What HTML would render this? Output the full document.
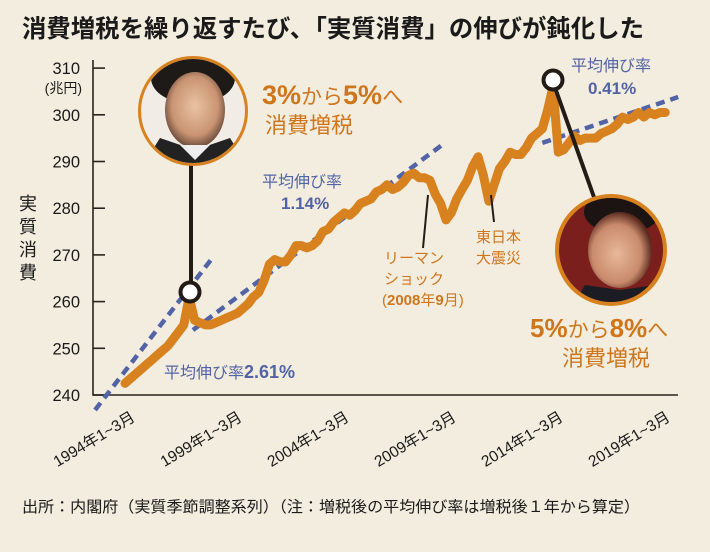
<!DOCTYPE html>
<html lang="ja">
<head>
<meta charset="utf-8">
<style>
  html,body{margin:0;padding:0;background:#f3eddf;}
  body{width:710px;height:552px;overflow:hidden;}
  svg{display:block;}
  text{font-family:"Liberation Sans","Noto Sans CJK JP",sans-serif;}
</style>
</head>
<body>
<svg id="chart" width="710" height="552" viewBox="0 0 710 552">
  <defs>
    <radialGradient id="face1" cx="50%" cy="45%" r="55%">
      <stop offset="0%" stop-color="#e9c3a3"/><stop offset="70%" stop-color="#c99473"/><stop offset="100%" stop-color="#6b4a3a"/>
    </radialGradient>
    <radialGradient id="face2" cx="45%" cy="55%" r="55%">
      <stop offset="0%" stop-color="#e8b89a"/><stop offset="70%" stop-color="#c98a6c"/><stop offset="100%" stop-color="#5a2a1e"/>
    </radialGradient>
    <clipPath id="c1"><circle cx="193" cy="111" r="52"/></clipPath>
    <clipPath id="c2"><circle cx="611" cy="250" r="52"/></clipPath>
  </defs>
  <rect x="0" y="0" width="710" height="552" fill="#f3eddf"/>

  <text x="22" y="37" font-size="24.5" font-weight="bold" fill="#1a1a1a" textLength="622" lengthAdjust="spacingAndGlyphs">消費増税を繰り返すたび､「実質消費」の伸びが鈍化した</text>

  <g id="axes"></g>
  <g id="trends"></g>
  <g id="series"></g>

  <line x1="191" y1="165" x2="191" y2="290" stroke="#231b16" stroke-width="4"/>
  <g>
    <circle cx="193" cy="111" r="55" fill="#d7821f"/>
    <g clip-path="url(#c1)">
      <rect x="130" y="55" width="130" height="120" fill="#f1ece6"/>
      <ellipse cx="193" cy="78" rx="42" ry="26" fill="#1e1a18"/>
      <ellipse cx="195" cy="110" rx="30" ry="38" fill="url(#face1)"/>
      <path d="M140 170 L160 138 L195 150 L230 138 L250 170 Z" fill="#222"/>
      <path d="M180 145 L195 160 L210 145 Z" fill="#eee"/>
    </g>
  </g>
  <circle cx="190" cy="292" r="9.5" fill="#ffffff" stroke="#231b16" stroke-width="4"/>

  <line x1="553" y1="82" x2="595" y2="200" stroke="#231b16" stroke-width="4"/>
  <g>
    <circle cx="611" cy="250" r="56" fill="#d7821f"/>
    <g clip-path="url(#c2)">
      <rect x="550" y="190" width="125" height="120" fill="#7a1f1c"/>
      <ellipse cx="622" cy="212" rx="38" ry="22" fill="#1b1412"/>
      <ellipse cx="620" cy="250" rx="32" ry="38" fill="url(#face2)"/>
      <path d="M570 310 L585 285 L620 290 L655 285 L670 310 Z" fill="#1c1c24"/>
    </g>
  </g>
  <circle cx="553" cy="80" r="9.5" fill="#ffffff" stroke="#231b16" stroke-width="4"/>

  <g fill="#cf761c">
    <text x="262" y="104" font-weight="bold"><tspan font-size="27">3%</tspan><tspan font-size="21" font-weight="normal">から</tspan><tspan font-size="27">5%</tspan><tspan font-size="21" font-weight="normal">へ</tspan></text>
    <text x="265" y="133" font-size="22">消費増税</text>
  </g>
  <g fill="#cf761c">
    <text x="530" y="337" font-weight="bold"><tspan font-size="26">5%</tspan><tspan font-size="21" font-weight="normal">から</tspan><tspan font-size="26">8%</tspan><tspan font-size="21" font-weight="normal">へ</tspan></text>
    <text x="562" y="366" font-size="22">消費増税</text>
  </g>
  <g fill="#5263a6">
    <text x="164" y="378" font-size="16">平均伸び率<tspan font-weight="bold" font-size="18">2.61%</tspan></text>
  </g>
  <g fill="#5263a6">
    <text x="262" y="187" font-size="16">平均伸び率</text>
    <text x="281" y="209" font-size="17" font-weight="bold">1.14%</text>
  </g>
  <g fill="#5263a6">
    <text x="571" y="71" font-size="16">平均伸び率</text>
    <text x="588" y="94" font-size="17" font-weight="bold">0.41%</text>
  </g>
  <g>
    <line x1="428" y1="195" x2="423" y2="248" stroke="#231b16" stroke-width="2"/>
    <text x="384" y="263" font-size="15" fill="#cf761c">リーマン</text>
    <text x="384" y="284" font-size="15" fill="#cf761c">ショック</text>
    <text x="382" y="305" font-size="15" fill="#cf761c">(<tspan font-weight="bold">2008</tspan>年<tspan font-weight="bold">9</tspan>月)</text>
  </g>
  <g>
    <line x1="491" y1="195" x2="494" y2="222" stroke="#231b16" stroke-width="2"/>
    <text x="476" y="242" font-size="15" fill="#cf761c">東日本</text>
    <text x="476" y="263" font-size="15" fill="#cf761c">大震災</text>
  </g>

  <text x="22" y="512" font-size="15.5" fill="#1a1a1a" textLength="618" lengthAdjust="spacingAndGlyphs">出所：内閣府（実質季節調整系列）（注：増税後の平均伸び率は増税後１年から算定）</text>
</svg>
<script>
const yTicks = [240, 250, 260, 270, 280, 290, 300, 310];
const xTickLabels = ["1994年1~3月", "1999年1~3月", "2004年1~3月", "2009年1~3月", "2014年1~3月", "2019年1~3月"];
const xTickQuarters = [0, 20, 40, 60, 80, 100];
const startYear = 1994;
const consumption = [
  242.5,243.5,244.5,245.5, 246.5,247.5,248.5,249.5, 250.5,252,253.5,255,
  261,256,255.5,255, 255,255.5,256,256.5, 257,257.5,258.5,259.5,
  261,262,264.5,268, 269,268.5,268.5,270, 272,272,271.5,272,
  273,275,275.5,277, 278,279,278.5,279.5, 281,281.5,282,283.5,
  284,285,284,284.5, 285.5,287,287.5,286.5, 286.5,286,283,281,
  277.5,279,282,284, 286,289,291,287, 281.5,285,288.5,290,
  292,291.5,291.5,293, 295,296,297,301, 306,292,292.5,294,
  295.5,294.5,295,295, 295,296,296.5,297, 298,299.5,299,299.5,
  300.5,299.5,300.5,300, 300.5,300.5
];
const trend1Quarters = [-5.6, 16.3];
const trend1Values = [236.8, 269.3];
const trend2Quarters = [12.7, 59.8];
const trend2Values = [253.9, 294.0];
const trend3Quarters = [78, 103.4];
const trend3Values = [294.0, 303.8];

const NS = "http://www.w3.org/2000/svg";
const X0 = 125, QW = 5.35;
const Y0 = 395, PER = 4.67;
function xq(q){ return X0 + q * QW; }
function yv(v){ return Y0 - (v - 240) * PER; }
function mk(tag, attrs, parent){
  const e = document.createElementNS(NS, tag);
  for (const k in attrs) e.setAttribute(k, attrs[k]);
  parent.appendChild(e);
  return e;
}

const axes = document.getElementById("axes");
const yAxis = mk("path", {d:`M93 60 L93 ${Y0} L678 ${Y0}`, fill:"none", stroke:"#2a231d", "stroke-width":1.6}, axes);


yTicks.forEach(v => {
  const y = yv(v);
  const t = mk("line", {x1:93, y1:y, x2:105, y2:y, stroke:"#2a231d", "stroke-width":1.6}, axes);
  
  
  const lb = mk("text", {x:80, y:y+6, "font-size":16.5, "text-anchor":"end", fill:"#1a1a1a"}, axes);
  lb.textContent = v;
  
  
});
const unit = mk("text", {x:82, y:93, "font-size":14, "text-anchor":"end", fill:"#1a1a1a"}, axes);
unit.textContent = "(兆円)";


["実","質","消","費"].forEach((c, i) => {
  const t = mk("text", {x:28, y:210 + i*23, "font-size":18, "text-anchor":"middle", fill:"#1a1a1a"}, axes);
  t.textContent = c;
  
  
});
xTickLabels.forEach((s, i) => {
  const x = xq(xTickQuarters[i]) + 11;
  const t = mk("text", {x:x, y:420, "font-size":15.5, "text-anchor":"end", fill:"#1a1a1a", transform:`rotate(-31 ${x} 420)`}, axes);
  t.textContent = s;
  
  
});

const trends = document.getElementById("trends");
[[trend1Quarters, trend1Values], [trend2Quarters, trend2Values], [trend3Quarters, trend3Values]].forEach(([qs, vs]) => {
  const l = mk("line", {x1:xq(qs[0]), y1:yv(vs[0]), x2:xq(qs[1]), y2:yv(vs[1]), stroke:"#5263a6", "stroke-width":4.5, "stroke-dasharray":"9 6"}, trends);
  
  
});

const series = document.getElementById("series");
const d = consumption.map((v, i) => (i ? "L" : "M") + xq(i).toFixed(1) + " " + yv(v).toFixed(1)).join(" ");
const p = mk("path", {d:d, fill:"none", stroke:"#d7821f", "stroke-width":9, "stroke-linejoin":"round", "stroke-linecap":"round"}, series);


</script>
</body>
</html>
